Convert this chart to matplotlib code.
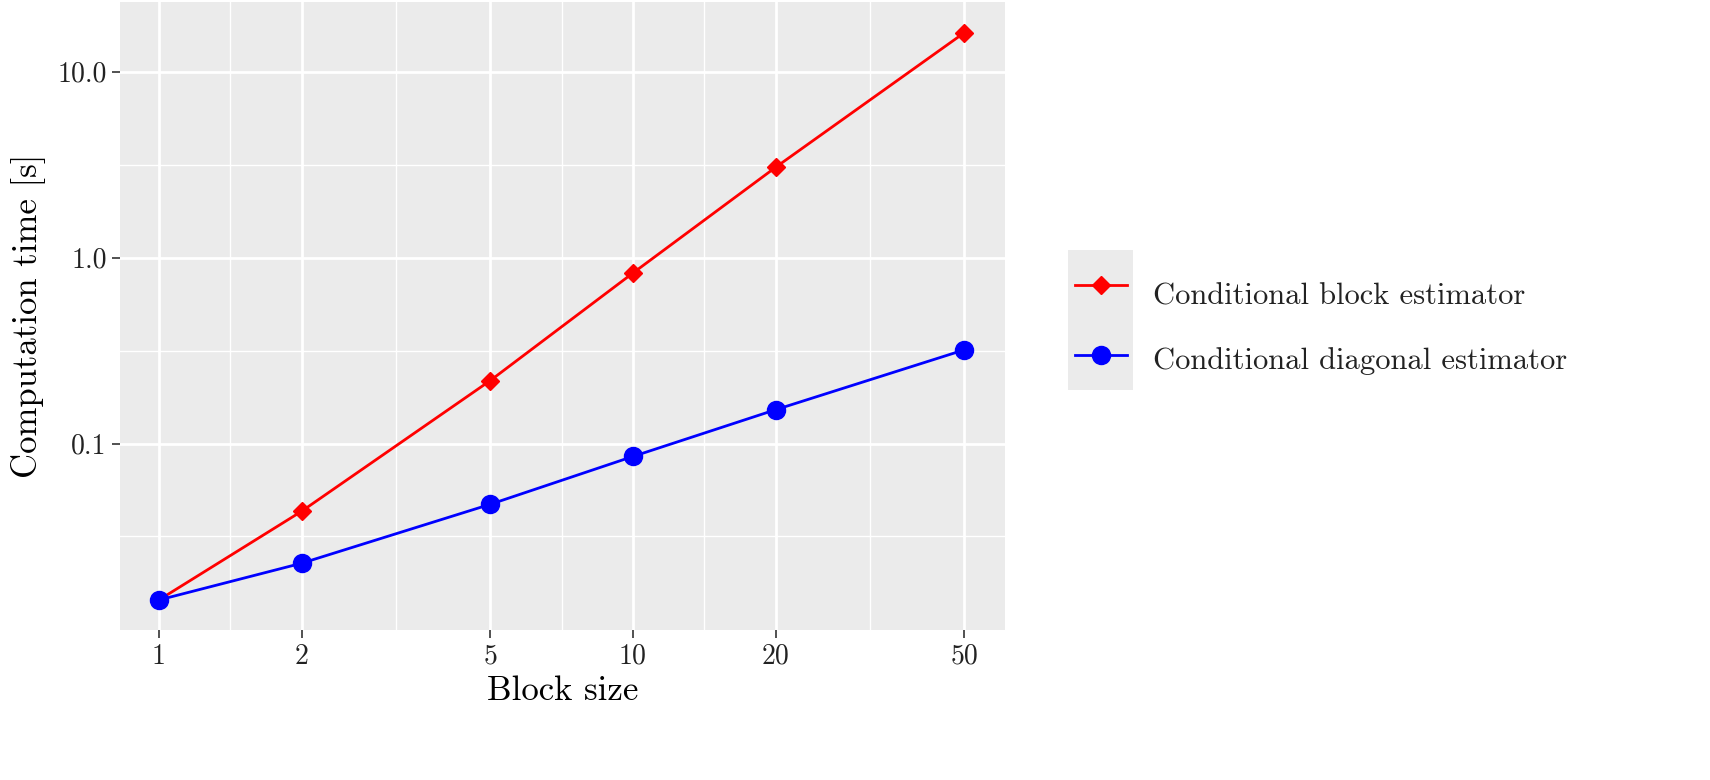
import matplotlib
matplotlib.use("Agg")
import matplotlib.pyplot as plt
import numpy as np

block_size = [1, 2, 5, 10, 20, 50]
block_est = [0.0144, 0.0432, 0.218, 0.826, 3.06, 16.2]
diag_est = [0.0144, 0.0227, 0.0471, 0.0852, 0.152, 0.319]
x_ticks = [1, 2, 5, 10, 20, 50]
x_labels = ["1", "2", "5", "10", "20", "50"]
y_ticks = [0.1, 1.0, 10.0]
y_labels = ["0.1", "1.0", "10.0"]
series_names = ["Conditional block estimator", "Conditional diagonal estimator"]

plt.rcParams['font.family'] = ['cmr10', 'DejaVu Serif']
plt.rcParams['axes.unicode_minus'] = False

W, H = 1710, 780
fig = plt.figure(figsize=(W/100, H/100), dpi=100)
ax = fig.add_axes([120/W, 1-630/H, (1005-120)/W, 628/H])
ax.set_facecolor('#EBEBEB')
ax.set_xscale('log'); ax.set_yscale('log')
ax.set_xlim(10**-0.082, 10**1.785)
ax.set_ylim(10**-2.003, 10**1.375)

xb = np.log10(x_ticks)
xmin = [(xb[i]+xb[i+1])/2 for i in range(len(xb)-1)]
for v in xmin:
    ax.axvline(10**v, color='white', lw=1.0, zorder=0)
for v in [-1.5, -0.5, 0.5]:
    ax.axhline(10**v, color='white', lw=1.0, zorder=0)
for v in x_ticks:
    ax.axvline(v, color='white', lw=2.0, zorder=0)
for v in y_ticks:
    ax.axhline(v, color='white', lw=2.0, zorder=0)

ax.plot(block_size, block_est, color='#FF0000', lw=2, marker='D', ms=9, zorder=3)
ax.plot(block_size, diag_est, color='#0000FF', lw=2, marker='o', ms=13, zorder=3)

ax.set_xticks(x_ticks); ax.set_xticklabels(x_labels)
ax.set_yticks(y_ticks); ax.set_yticklabels(y_labels)
ax.minorticks_off()
ax.tick_params(axis='both', labelsize=20, color='#333333', length=6, width=1.2, labelcolor='#222222')
for s in ax.spines.values():
    s.set_visible(False)
ax.set_xlabel("Block size", fontsize=25, labelpad=4)
ax.set_ylabel("Computation time [s]", fontsize=25, labelpad=8)

kax = fig.add_axes([1068/W, 1-390/H, 65/W, 140/H])
kax.set_facecolor('#EBEBEB')
kax.set_xlim(0, 1); kax.set_ylim(0, 2)
for s in kax.spines.values():
    s.set_visible(False)
kax.set_xticks([]); kax.set_yticks([])
kax.plot([0.1, 0.9], [1.5, 1.5], color='#FF0000', lw=2)
kax.plot([0.5], [1.5], color='#FF0000', marker='D', ms=9)
kax.plot([0.1, 0.9], [0.5, 0.5], color='#0000FF', lw=2)
kax.plot([0.5], [0.5], color='#0000FF', marker='o', ms=13)
fig.text(1153/W, 1-297/H, series_names[0], fontsize=22, va='center', color='#222222')
fig.text(1153/W, 1-361/H, series_names[1], fontsize=22, va='center', color='#222222')

fig.savefig("out.png", dpi=100)
